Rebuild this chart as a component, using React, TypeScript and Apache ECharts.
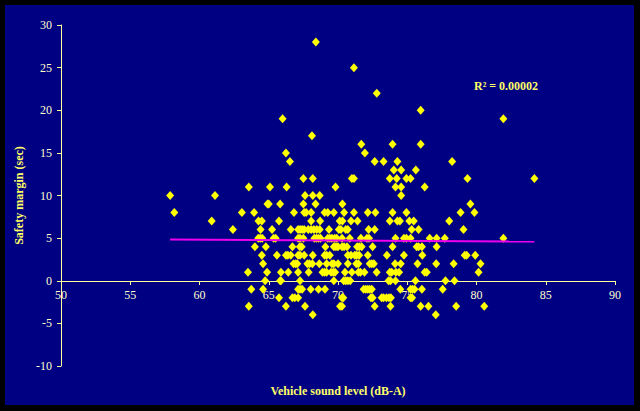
import React, { useEffect, useRef } from "react";
import * as echarts from "echarts";

// Safety margin levels (sec) and the vehicle sound levels (dB-A) observed at each level
const marginLevels = [28, 25, 22, 20, 19, 17, 16, 15, 14, 13, 12, 11, 10, 9, 8, 7, 6, 5, 4, 3, 2, 1, 0, -1, -2, -3, -4];
const soundByLevel: number[][] = [
  [68.4],
  [71.15],
  [72.8],
  [75.97],
  [66.0, 81.94],
  [68.12],
  [71.68, 73.94, 75.97],
  [66.24, 71.94],
  [66.53, 72.65, 73.29, 74.29, 78.24],
  [74.03, 74.56, 75.62],
  [67.5, 68.18, 71.0, 71.15, 73.74, 74.24, 74.94, 75.24, 79.35, 84.18],
  [63.56, 65.09, 66.29, 69.82, 74.15, 74.56, 76.26],
  [57.88, 61.12, 67.62, 68.18, 68.68, 74.56],
  [64.91, 65.0, 65.82, 67.5, 68.38, 70.32, 79.56],
  [58.18, 63.06, 63.94, 66.82, 67.56, 67.7, 68.06, 69.03, 69.26, 69.7, 70.44, 71.15, 72.15, 72.7, 73.94, 74.94, 78.85, 79.85],
  [60.88, 64.26, 64.5, 65.74, 68.06, 68.71, 70.12, 70.32, 70.94, 71.41, 73.74, 74.29, 74.47, 75.15, 75.47, 78.03],
  [62.41, 64.41, 65.24, 66.59, 67.12, 67.26, 67.41, 67.56, 67.85, 68.06, 68.26, 68.47, 68.68, 69.35, 70.06, 70.21, 70.56, 70.71, 72.21, 72.65, 75.32, 75.82, 79.06],
  [64.24, 64.38, 64.53, 65.35, 65.5, 67.12, 67.26, 67.5, 68.29, 68.44, 68.59, 68.74, 69.26, 69.41, 69.56, 69.76, 69.91, 70.29, 70.85, 71.65, 72.09, 72.24, 74.15, 74.76, 74.94, 75.24, 76.62, 77.12, 77.71, 81.94],
  [64.0, 64.79, 66.71, 67.24, 67.38, 69.09, 69.7, 69.85, 70.0, 70.29, 70.44, 70.65, 71.38, 71.53, 71.71, 72.5, 73.94, 75.68, 75.82, 76.06, 77.12],
  [64.5, 65.59, 66.24, 66.38, 66.59, 67.12, 67.26, 67.56, 68.18, 69.03, 69.18, 69.41, 70.71, 70.94, 71.21, 71.35, 71.53, 72.15, 73.53, 74.76, 76.09, 79.15, 79.29, 79.91],
  [64.59, 66.79, 66.94, 67.06, 67.79, 67.94, 68.15, 68.65, 69.18, 69.56, 69.7, 70.0, 70.71, 71.32, 71.47, 72.29, 72.44, 72.59, 74.12, 74.53, 75.74, 77.09, 78.35, 80.29],
  [63.5, 64.88, 65.88, 66.41, 67.12, 67.88, 68.88, 69.03, 69.18, 69.5, 69.65, 69.79, 70.5, 71.0, 71.47, 71.62, 71.91, 72.79, 73.74, 73.88, 74.18, 74.41, 76.26, 76.41, 80.15],
  [64.74, 65.82, 65.88, 67.26, 69.7, 70.41, 70.56, 70.71, 70.88, 73.65, 73.79, 74.15, 75.59, 77.76, 78.41],
  [63.74, 64.59, 67.12, 67.26, 67.41, 68.03, 68.59, 69.06, 71.85, 72.0, 72.15, 72.29, 72.44, 74.5, 75.24, 75.38, 75.53, 76.06, 77.56],
  [65.74, 66.71, 66.88, 67.12, 70.29, 70.38, 72.38, 72.5, 73.15, 73.29, 73.5, 73.68, 73.82, 75.24, 75.35],
  [63.56, 66.24, 67.62, 70.15, 70.29, 72.65, 73.79, 75.97, 76.53, 78.53, 80.56],
  [68.18, 77.06],
];

// Linear trend line end points
const trendX = [57.88, 84.18];
const trendY = [4.85, 4.6];
const r2Label = "R² = 0.00002";

const xTitle = "Vehicle sound level (dB-A)";
const yTitle = "Safety margin (sec)";

export default function App() {
  const ref = useRef<HTMLDivElement>(null);
  useEffect(() => {
    if (!ref.current) return;
    const chart = echarts.init(ref.current, undefined, { renderer: "svg" });
    const points: number[][] = [];
    marginLevels.forEach((lvl, i) => {
      soundByLevel[i].forEach((x) => points.push([x, lvl]));
    });
    const serif = "'Liberation Serif', 'Times New Roman', serif";
    const axisColor = "#ffff99";
    const labelColor = "#ffffcc";
    chart.setOption({
      animation: false,
      backgroundColor: "#000000",
      graphic: [
        {
          type: "rect",
          z: -10,
          silent: true,
          shape: { x: 5, y: 5, width: 629, height: 400 },
          style: { fill: "#000083" },
        },
        {
          type: "text",
          left: 474,
          top: 80,
          z: 10,
          style: {
            text: r2Label,
            fill: "#ffff66",
            font: `bold 12px ${serif}`,
          },
        },
      ],
      grid: { left: 61, right: 25, top: 25, bottom: 45, containLabel: false, outerBoundsMode: "none" },
      xAxis: {
        type: "value",
        min: 50,
        max: 90,
        interval: 5,
        offset: -85,
        name: xTitle,
        nameLocation: "middle",
        nameGap: 104,
        nameTextStyle: { color: "#ffff66", fontFamily: serif, fontWeight: "bold", fontSize: 12 },
        axisLine: { onZero: false, lineStyle: { color: axisColor, width: 1 } },
        axisTick: { show: true, length: 4, lineStyle: { color: axisColor } },
        axisLabel: { color: labelColor, fontFamily: serif, fontSize: 12, margin: 8 },
        splitLine: { show: false },
      },
      yAxis: {
        type: "value",
        min: -10,
        max: 30,
        interval: 5,
        name: yTitle,
        nameLocation: "middle",
        nameGap: 32,
        nameRotate: 90,
        nameTextStyle: { color: "#ffff66", fontFamily: serif, fontWeight: "bold", fontSize: 12 },
        axisLine: { show: true, onZero: false, lineStyle: { color: axisColor, width: 1 } },
        axisTick: { show: true, length: 4, lineStyle: { color: axisColor } },
        axisLabel: { color: labelColor, fontFamily: serif, fontSize: 12, margin: 9 },
        splitLine: { show: false },
      },
      series: [
        {
          type: "scatter",
          data: points,
          symbol: "diamond",
          symbolSize: [8, 9],
          itemStyle: { color: "#ffff00", opacity: 1 },
          z: 3,
        },
        {
          type: "line",
          data: trendX.map((x, i) => [x, trendY[i]]),
          showSymbol: false,
          symbol: "none",
          lineStyle: { color: "#ee00ee", width: 2 },
          z: 4,
        },
      ],
    });
    return () => chart.dispose();
  }, []);
  return (
    <div
      ref={ref}
      style={{ position: "fixed", left: 0, top: 0, width: 640, height: 411 }}
    />
  );
}
